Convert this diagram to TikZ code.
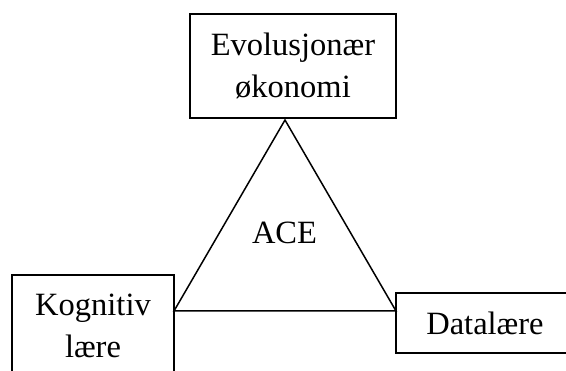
\documentclass[tikz,border=0pt]{standalone}
\usepackage{fontspec}
\setmainfont{Liberation Serif}
\begin{document}
\begin{tikzpicture}[x=1pt,y=1pt,
  box/.style={draw=black, line width=1.5pt, inner sep=0pt, align=center,
    font=\fontsize{32.5}{42}\selectfont},
  edge/.style={draw=black, line width=1.5pt, line join=miter},
  lbl/.style={inner sep=0pt, font=\fontsize{32.5}{42}\selectfont}]
\useasboundingbox (0,0) rectangle (566,371);
\clip (0,0) rectangle (566,371);
\node[box, minimum width=206, minimum height=104] (evo) at (293,305) {Evolusjonær\\økonomi};
\node[box, minimum width=162, minimum height=102] (kog) at (93,45) {Kognitiv\\lære};
\node[box, minimum width=178, minimum height=60] (data) at (485,48) {Datalære};
\coordinate (apex) at (285,251);
\coordinate (bl) at (174,60);
\coordinate (br) at (396,60);
\draw[edge] (apex) -- (bl) -- (br) -- cycle;
\node[lbl] (ace) at (284.5,138.5) {ACE};
\end{tikzpicture}
\end{document}
